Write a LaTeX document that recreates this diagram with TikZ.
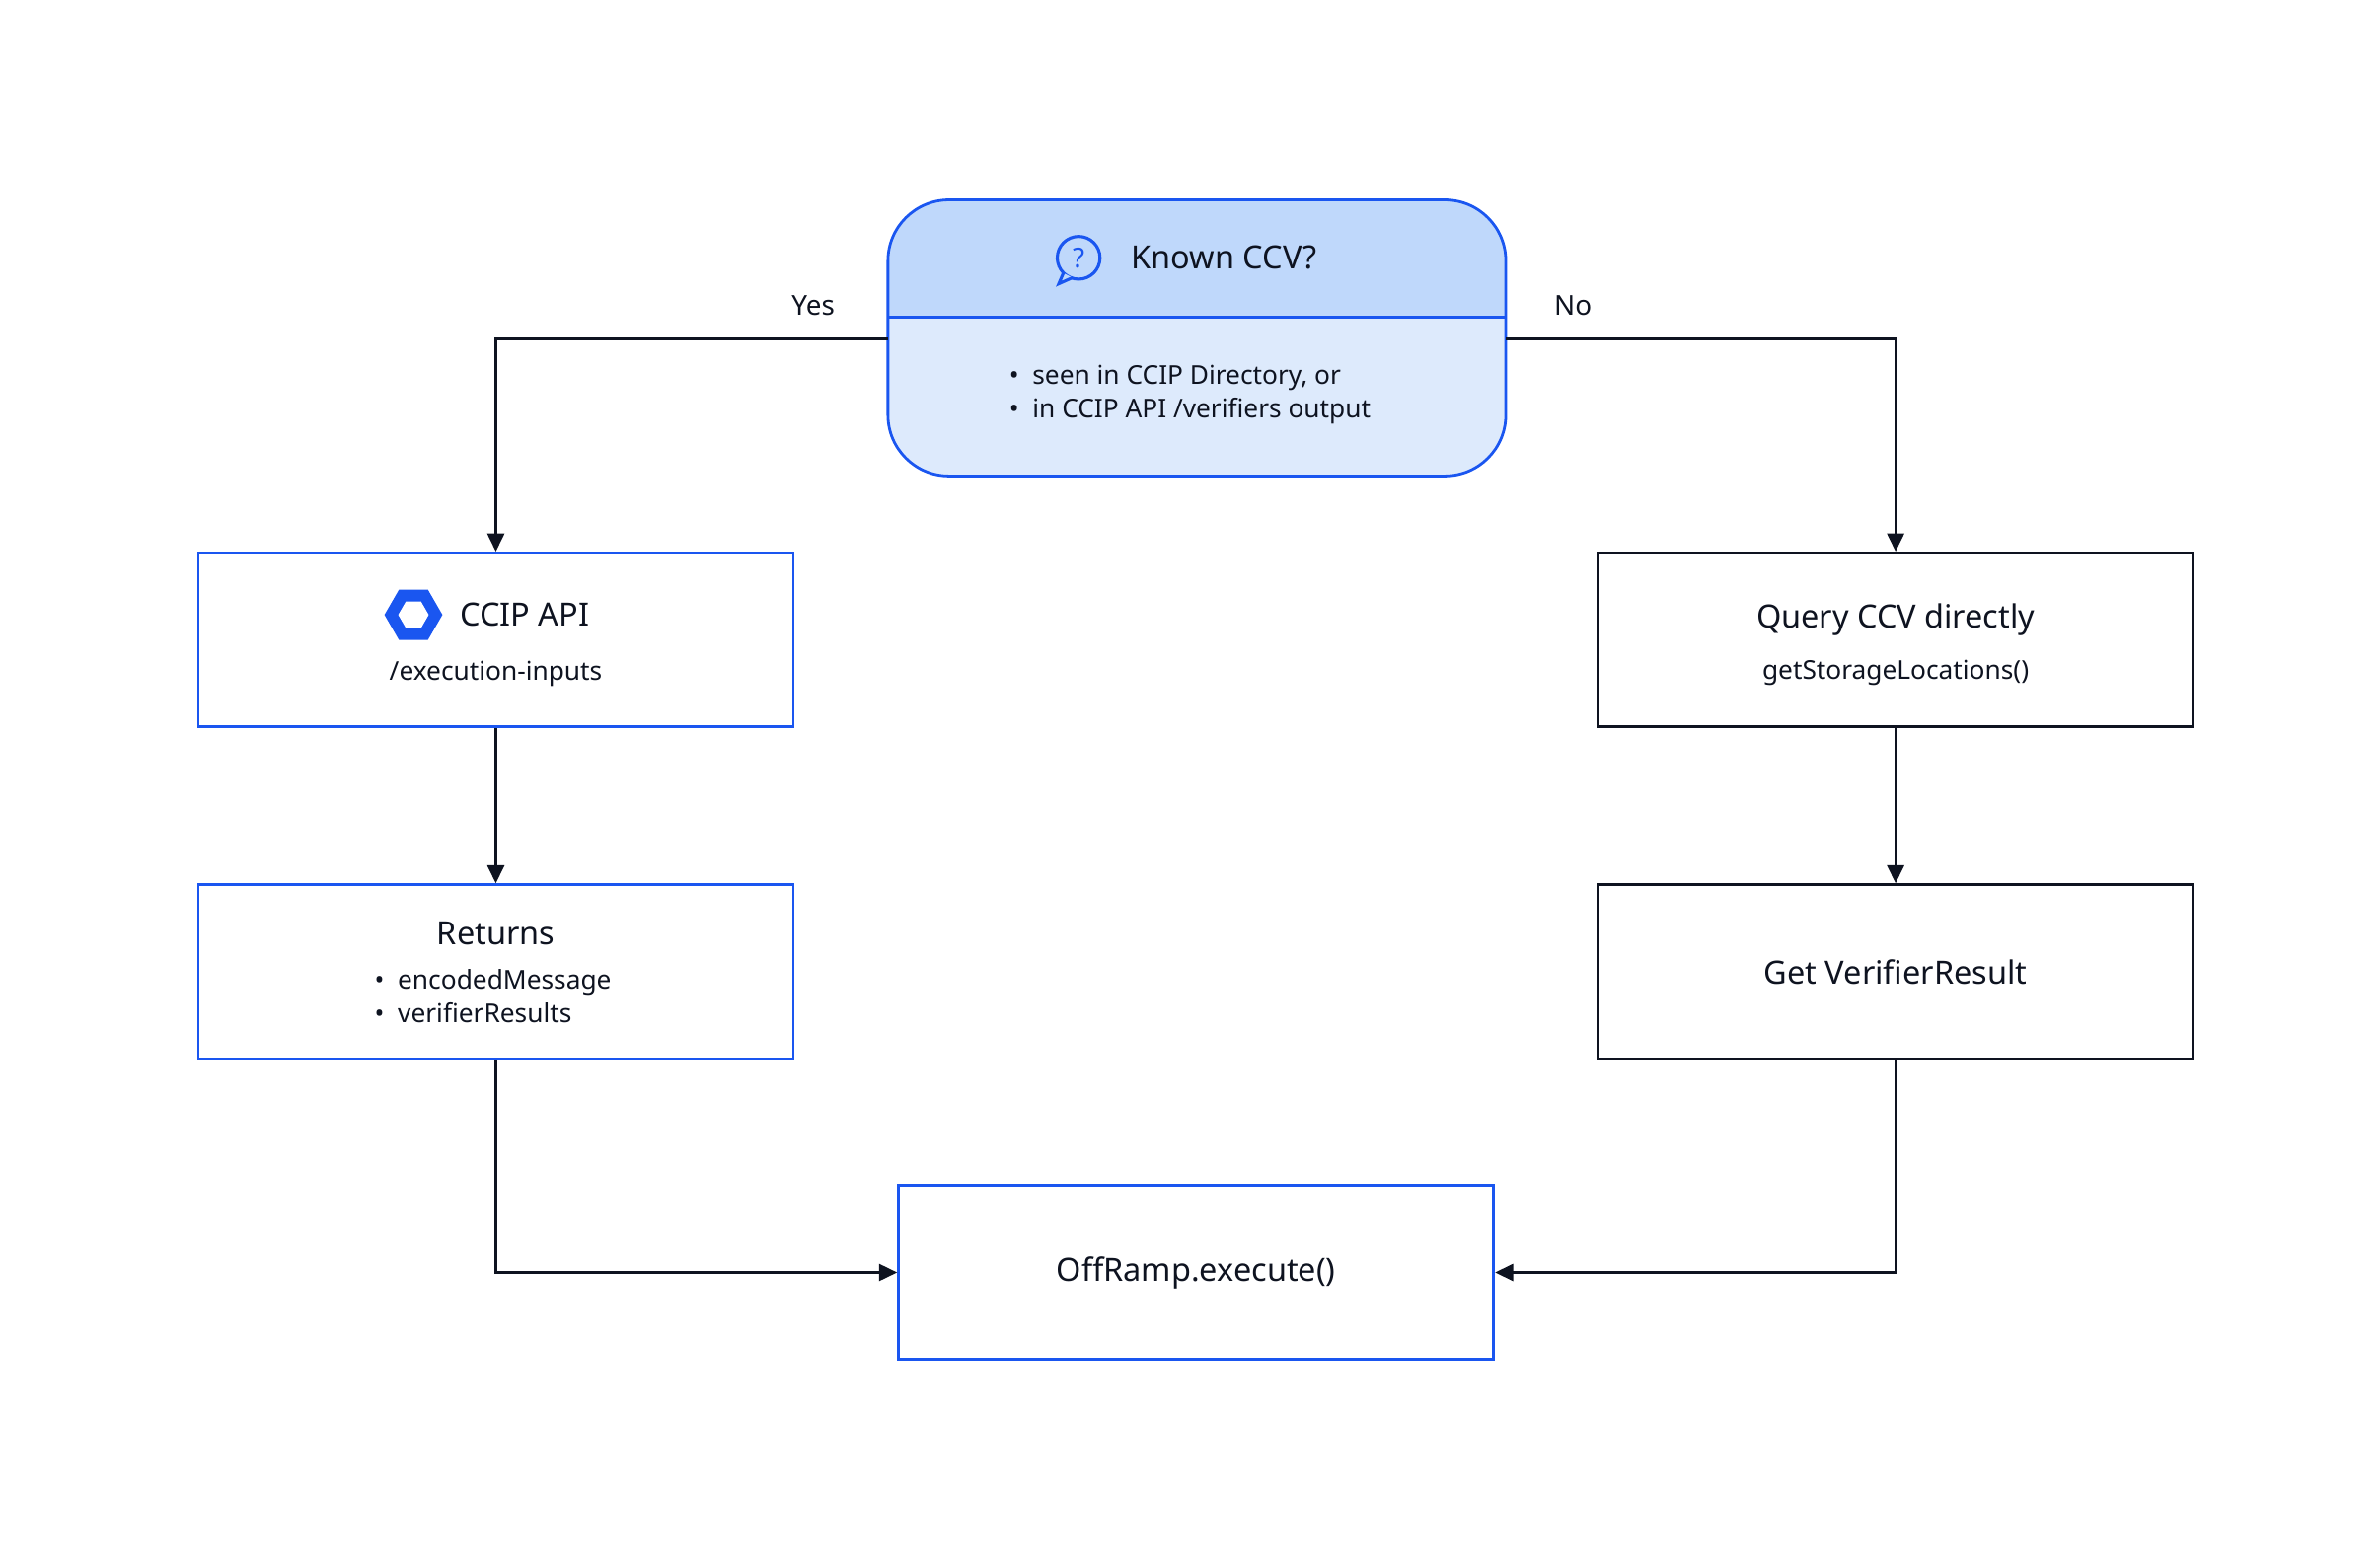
\documentclass[tikz,border=0pt]{standalone}
\usepackage{fontspec}
\setmainfont{Noto Sans}
\usetikzlibrary{arrows.meta,shapes.geometric}
\definecolor{bl}{HTML}{1A56F0}
\definecolor{hd}{HTML}{BFD8FB}
\definecolor{bd}{HTML}{DDEAFC}
\definecolor{ink}{HTML}{0E1320}
\tikzset{
 box/.style={draw=#1,line width=1.8pt,minimum width=390pt,minimum height=114pt,inner sep=0pt,fill=white},
 ttl/.style={font=\fontsize{21}{24}\selectfont\bfseries,text=ink},
 txt/.style={font=\fontsize{17}{22}\selectfont,text=ink,align=left},
 conn/.style={draw=ink,line width=2pt,-{Triangle[length=12pt,width=11pt]}},
 lbl/.style={font=\fontsize{18}{22}\selectfont,text=ink}
}
\begin{document}
\begin{tikzpicture}[x=1pt,y=-1pt]
\useasboundingbox (0,0) rectangle (1560,1017);
% top decision box
\begin{scope}
\clip[rounded corners=40pt] (582,131) rectangle (987,312);
\fill[bd] (582,131) rectangle (987,312);
\fill[hd] (582,131) rectangle (987,208);
\end{scope}
\draw[bl,line width=1.8pt] (582,208) -- (987,208);
\draw[bl,line width=1.8pt,rounded corners=40pt] (582,131) rectangle (987,312);
\node (top) [minimum width=405pt,minimum height=181pt,inner sep=0pt] at (784.5,221.5) {};
\node[ttl,anchor=west] (toptitle) at (738,169) {Known CCV?};
\draw[bl,line width=2pt] (707,169) circle (14);
\draw[bl,line width=2pt,fill=hd] (697,179) -- (694,186) -- (703,182);
\node[bl,font=\fontsize{18}{20}\selectfont\bfseries] (qm) at (707,169) {?};
\node[txt,anchor=west] (toptxt) at (658,259) {\textbullet\ \ seen in CCIP Directory, or\\\textbullet\ \ in CCIP API /verifiers output};
% left column
\node[box=bl] (api) at (325,419.5) {};
\node[regular polygon,regular polygon sides=6,fill=bl,minimum size=38pt,inner sep=0pt] (hex) at (271,403) {};
\node[regular polygon,regular polygon sides=6,fill=white,minimum size=20pt,inner sep=0pt] (hexin) at (271,403) {};
\node[ttl,anchor=west] (apit) at (298,403) {CCIP API};
\node[txt] (apis) at (325,442) {/execution-inputs};
\node[box=bl] (ret) at (325,637) {};
\node[ttl] (rett) at (325,612) {Returns};
\node[txt,anchor=west] (rets) at (242,653) {\textbullet\ \ encodedMessage\\\textbullet\ \ verifierResults};
% right column
\node[box=ink] (q) at (1242.5,419.5) {};
\node[ttl] (qt) at (1242.5,406) {Query CCV directly};
\node[txt] (qs) at (1242.5,441) {getStorageLocations()};
\node[box=ink] (g) at (1242.5,637) {};
\node[ttl] (gt) at (1242.5,637) {Get VerifierResult};
% bottom
\node[box=bl] (off) at (784,834) {};
\node[ttl] (offt) at (784,834) {OffRamp.execute()};
% connectors
\draw[conn] (top.west|-0,222) -| (api.north);
\draw[conn] (top.east|-0,222) -| (q.north);
\draw[conn] (api) -- (ret);
\draw[conn] (q) -- (g);
\draw[conn] (ret.south) |- (off.west);
\draw[conn] (g.south) |- (off.east);
\node[lbl] (yes) at (533,200) {Yes};
\node[lbl] (no) at (1031,200) {No};
\end{tikzpicture}
\end{document}
